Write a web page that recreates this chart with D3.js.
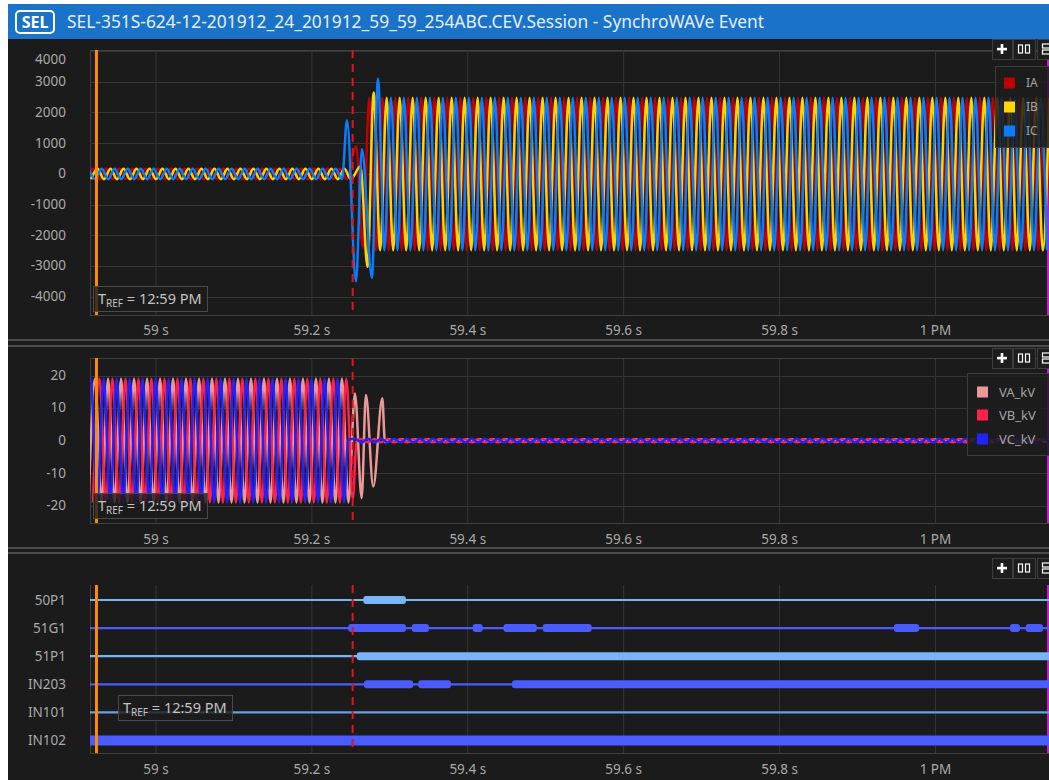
<!DOCTYPE html>
<meta charset="utf-8">
<html>
<head>
  <script src="https://d3js.org/d3.v7.min.js" charset="utf-8"></script>
</head>
<style>
* { font-family: "Noto Sans", "Open Sans", sans-serif; }
body { margin: 0; background-color: #ffffff; overflow: hidden; }
</style>
<body>
<div id=container></div>
<script type="text/javascript">

// ---- data ----
var title = "SEL-351S-624-12-201912_24_201912_59_59_254ABC.CEV.Session - SynchroWAVe Event"
var xTicks = [59, 59.2, 59.4, 59.6, 59.8, 60]
var xTickLabels = ["59 s", "59.2 s", "59.4 s", "59.6 s", "59.8 s", "1 PM"]
var currentTicks = [4000, 3000, 2000, 1000, 0, -1000, -2000, -3000, -4000]
var voltageTicks = [20, 10, 0, -10, -20]
var tRef = 58.9243      // orange TREF cursor
var tTrigger = 59.2530  // red dashed trigger line

var HALF = 1 / 120  // peaks come every half cycle of 60 Hz

// [time of first peak, number of half cycles, first peak value]; sign flips every half cycle
var iaRuns = [[58.9117, 41, -170], [59.2743, 106, 2480]]
var ibRuns = [[58.9173, 41, -170], [59.2883, 104, -2480]]
var icRuns = [[58.9144, 40, 170], [59.2937, 103, -2480]]
// single peaks around fault inception [time, value]
var iaEdge = [[59.2576, 900], [59.2660, -2400]]
var ibEdge = [[59.2630, 250], [59.2720, -3030], [59.2799, 2650]]
var icEdge = [[59.2457, 1750], [59.2572, -3500], [59.2649, 800], [59.2777, -3380], [59.2854, 3100]]

var vaRuns = [[58.9142, 41, -19.0], [59.2990, 104, 0.4]]
var vbRuns = [[58.9198, 40, -19.0], [59.2640, 106, 0.5]]
var vcRuns = [[58.9086, 41, -19.0], [59.2560, 108, 0.6]]
var vaEdge = [[59.2559, 14.5], [59.2645, -17.6], [59.2700, 14.0], [59.2794, -14.1], [59.2910, 13.0], [59.2944, -0.5]]
var vbEdge = [[59.2531, -18.0], [59.2580, 0]]
var vcEdge = [[59.2470, 0.3]]

var digitalNames = ["50P1", "51G1", "51P1", "IN203", "IN101", "IN102"]
var dig50P1 = [[59.2666, 59.3214]]
var dig51G1 = [[59.2473, 59.3214], [59.3287, 59.3509], [59.4069, 59.4198], [59.4464, 59.4892],
               [59.4967, 59.5596], [59.9472, 59.9798], [60.0962, 60.1091], [60.1164, 60.1386]]
var dig51P1 = [[59.2581, 60.2]]
var digIN203 = [[59.2675, 59.3307], [59.3371, 59.3791], [59.4574, 60.2]]
var digIN101 = []
var digIN102 = [[58.90, 60.2]]

// ---- layout ----
var width = 1049
var height = 780
var plotLeft = 90
var panels = [
  {top: 50, bottom: 315, axisY: 330, buttons: 39},
  {top: 358, bottom: 523, axisY: 539, buttons: 348},
  {top: 585, bottom: 753, axisY: 769, buttons: 558}
]
var grid = "#353535"
var tickColor = "#a9a9a9"
var tickFont = "13.5px"

var x = d3.scaleLinear().domain([58.916, 60.1463]).range([plotLeft, width])
var yI = d3.scaleLinear().domain([-4590, 4000]).range([panels[0].bottom, panels[0].top + 1])
var yV = d3.scaleLinear().domain([-25.3, 25.4]).range([panels[1].bottom, panels[1].top])
var yD = d3.scalePoint().domain(digitalNames).range([600, 740.5])

function peaks(runs, edge) {
  var pts = []
  runs.forEach(function(r) {
    for (var k = 0; k < r[1]; k++) pts.push([r[0] + k * HALF, k % 2 ? -r[2] : r[2]])
  })
  return pts.concat(edge).sort((a, b) => a[0] - b[0])
}

const svg = d3.select("#container")
              .append("svg")
              .attr("width", width)
              .attr("height", height)

// window frame
svg.append("rect").attr("width", width).attr("height", height).attr("fill", "#ffffff")
svg.append("rect").attr("x", 8).attr("y", 4).attr("width", width - 8).attr("height", height - 4).attr("fill", "#1b1b1b")
svg.append("rect").attr("x", 8).attr("y", 4).attr("width", width - 8).attr("height", 35).attr("fill", "#1a72c9")

svg.append("rect").attr("x", 16).attr("y", 11).attr("width", 38).attr("height", 22).attr("rx", 4)
   .attr("fill", "none").attr("stroke", "#ffffff").attr("stroke-width", 2)
svg.append("text").attr("x", 35).attr("y", 28).attr("text-anchor", "middle")
   .attr("fill", "#ffffff").attr("font-size", "16px").attr("font-weight", "bold").text("SEL")
svg.append("text").attr("x", 67).attr("y", 28).attr("fill", "#e4eefb").attr("font-size", "17.4px").text(title)

// splitters between panels
;[340, 346, 548, 553].forEach(function(yy) {
  svg.append("line").attr("x1", 8).attr("x2", width).attr("y1", yy).attr("y2", yy)
     .attr("stroke", "#5c5c5c").attr("stroke-width", 1.6)
})

panels.forEach(function(p, i) {
  var clipId = "clip" + i
  svg.append("clipPath").attr("id", clipId).append("rect")
     .attr("x", plotLeft).attr("y", p.top).attr("width", width - plotLeft).attr("height", p.bottom - p.top)
  p.g = svg.append("g")
  p.clip = svg.append("g").attr("clip-path", "url(#" + clipId + ")")

  // vertical grid
  p.g.selectAll("vgrid").data(xTicks).enter().append("line")
     .attr("x1", d => x(d) + 0.5).attr("x2", d => x(d) + 0.5)
     .attr("y1", p.top).attr("y2", p.bottom).attr("stroke", grid)

  // frame
  p.g.append("line").attr("x1", plotLeft + 0.5).attr("x2", plotLeft + 0.5).attr("y1", p.top).attr("y2", p.bottom).attr("stroke", "#404040")
  p.g.append("line").attr("x1", plotLeft).attr("x2", width).attr("y1", p.bottom + 0.5).attr("y2", p.bottom + 0.5).attr("stroke", "#404040")
  if (i < 2) p.g.append("line").attr("x1", plotLeft).attr("x2", width).attr("y1", p.top + 0.5).attr("y2", p.top + 0.5).attr("stroke", "#404040")

  // time axis
  var ax = svg.append("g").attr("transform", "translate(0," + (p.axisY - 5) + ")")
              .call(d3.axisBottom(x).tickValues(xTicks).tickFormat((d, j) => xTickLabels[j]).tickSize(0).tickPadding(0))
  ax.select(".domain").remove()
  ax.selectAll("text").attr("fill", tickColor).attr("font-size", tickFont).style("font-family", "Noto Sans")
})

// value axes + horizontal grid
function valueAxis(p, scale, ticks) {
  p.g.selectAll("hgrid").data(ticks).enter().append("line")
     .attr("x1", plotLeft).attr("x2", width)
     .attr("y1", d => Math.round(scale(d)) + 0.5).attr("y2", d => Math.round(scale(d)) + 0.5)
     .attr("stroke", grid)
  var ay = svg.append("g").attr("transform", "translate(66,0)")
              .call(d3.axisLeft(scale).tickValues(ticks).tickFormat(d => String(d)).tickSize(0).tickPadding(0))
  ay.select(".domain").remove()
  ay.selectAll(".tick").attr("transform", d => "translate(0," + Math.max(scale(d), p.top + 10) + ")")
  ay.selectAll("text").attr("fill", tickColor).attr("font-size", tickFont).style("font-family", "Noto Sans")
}
valueAxis(panels[0], yI, currentTicks)
valueAxis(panels[1], yV, voltageTicks)

var dAxis = svg.append("g").attr("transform", "translate(66,0)")
               .call(d3.axisLeft(yD).tickSize(0).tickPadding(0))
dAxis.select(".domain").remove()
dAxis.selectAll("text").attr("fill", tickColor).attr("font-size", tickFont).style("font-family", "Noto Sans")

// analog traces
var currents = [
  {name: "IA", color: "#c00000", pts: peaks(iaRuns, iaEdge)},
  {name: "IB", color: "#ffd500", pts: peaks(ibRuns, ibEdge)},
  {name: "IC", color: "#0a7cff", pts: peaks(icRuns, icEdge)}
]
var voltages = [
  {name: "VA_kV", color: "#eb9898", pts: peaks(vaRuns, vaEdge)},
  {name: "VB_kV", color: "#ff1f4b", pts: peaks(vbRuns, vbEdge)},
  {name: "VC_kV", color: "#2222ff", pts: peaks(vcRuns, vcEdge)}
]

function drawTraces(p, scale, series) {
  var line = d3.line().x(d => x(d[0])).y(d => scale(d[1])).curve(d3.curveMonotoneX)
  p.clip.selectAll("trace").data(series).enter().append("path")
        .attr("d", d => line(d.pts))
        .attr("fill", "none")
        .attr("stroke", d => d.color)
        .attr("stroke-width", 2.5)
}
drawTraces(panels[0], yI, currents)
drawTraces(panels[1], yV, voltages)

// digital traces
var digital = [
  {name: "50P1", color: "#78b5f7", on: dig50P1},
  {name: "51G1", color: "#4b5cff", on: dig51G1},
  {name: "51P1", color: "#78b5f7", on: dig51P1},
  {name: "IN203", color: "#4b5cff", on: digIN203},
  {name: "IN101", color: "#6a9fdf", on: digIN101},
  {name: "IN102", color: "#4b5cff", on: digIN102}
]
var p3 = panels[2]
p3.clip.selectAll("dline").data(digital).enter().append("line")
   .attr("x1", plotLeft).attr("x2", width)
   .attr("y1", d => yD(d.name)).attr("y2", d => yD(d.name))
   .attr("stroke", d => d.color).attr("stroke-width", 2.2)
digital.forEach(function(ch) {
  var h = ch.name == "IN102" ? 10 : 8
  p3.clip.selectAll("dbar").data(ch.on).enter().append("rect")
     .attr("x", d => x(d[0])).attr("width", d => x(d[1]) - x(d[0]))
     .attr("y", yD(ch.name) - h / 2).attr("height", h).attr("rx", 3)
     .attr("fill", ch.color)
})

// cursors
panels.forEach(function(p) {
  p.clip.append("line").attr("x1", x(tRef)).attr("x2", x(tRef)).attr("y1", p.top).attr("y2", p.bottom)
        .attr("stroke", "#ff8c00").attr("stroke-width", 3)
  p.clip.append("line").attr("x1", x(tTrigger)).attr("x2", x(tTrigger)).attr("y1", p.top).attr("y2", p.bottom)
        .attr("stroke", "#e0141a").attr("stroke-width", 2).attr("stroke-dasharray", "8,6")
  p.g.append("line").attr("x1", width - 1).attr("x2", width - 1).attr("y1", p.top).attr("y2", p.bottom)
     .attr("stroke", "#c21fd0").attr("stroke-width", 2)
})

// TREF labels
function tref(g, bx, by) {
  g.append("rect").attr("x", bx + 0.5).attr("y", by + 0.5).attr("width", 114).attr("height", 25)
   .attr("fill", "#1b1b1b").attr("fill-opacity", 0.8).attr("stroke", "#4a4a4a")
  var t = g.append("text").attr("x", bx + 5).attr("y", by + 18).attr("fill", "#c4c4c4").attr("font-size", "14.5px")
  t.append("tspan").text("T")
  t.append("tspan").attr("font-size", "10px").attr("dy", 3).text("REF")
  t.append("tspan").attr("dy", -3).text(" = 12:59 PM")
}
tref(svg, 93, 286)
tref(svg, 93, 493)
tref(svg, 118, 695)

// legends
function legend(items, bx, by, sx, tx, ys, fs) {
  var lg = svg.append("g")
  lg.append("rect").attr("x", bx + 0.5).attr("y", by + 0.5).attr("width", 100).attr("height", ys[2] - by + 16)
    .attr("fill", "#1c1c1c").attr("fill-opacity", 0.85).attr("stroke", "#3c3c3c")
  lg.selectAll("sw").data(items).enter().append("rect")
    .attr("x", sx).attr("y", (d, i) => ys[i] - 5.5).attr("width", 11).attr("height", 11)
    .attr("fill", d => d.color)
  lg.selectAll("lt").data(items).enter().append("text")
    .attr("x", tx).attr("y", (d, i) => ys[i]).attr("dy", "0.35em")
    .attr("fill", "#a4a4a4").attr("font-size", fs).text(d => d.name)
}
legend(currents, 995, 66, 1004, 1026, [83, 107, 131], "12px")
legend(voltages, 967, 373, 977, 999, [392, 415, 439], "13px")

// panel buttons
panels.forEach(function(p) {
  var b = svg.append("g")
  ;[[992, 20], [1013, 22], [1037, 22]].forEach(function(d) {
    b.append("rect").attr("x", d[0] + 0.5).attr("y", p.buttons + 0.5).attr("width", d[1]).attr("height", 20)
     .attr("fill", "#1d1d1d").attr("stroke", "#3e3e3e")
  })
  var cy = p.buttons + 10
  b.append("rect").attr("x", 997).attr("y", cy - 1.2).attr("width", 10).attr("height", 2.6).attr("fill", "#ffffff")
  b.append("rect").attr("x", 1000.7).attr("y", cy - 5).attr("width", 2.6).attr("height", 10).attr("fill", "#ffffff")
  b.append("rect").attr("x", 1018.5).attr("y", cy - 4).attr("width", 4).attr("height", 8).attr("fill", "none").attr("stroke", "#ffffff").attr("stroke-width", 1.2)
  b.append("rect").attr("x", 1025.5).attr("y", cy - 4).attr("width", 4).attr("height", 8).attr("fill", "none").attr("stroke", "#ffffff").attr("stroke-width", 1.2)
  b.append("rect").attr("x", 1042.5).attr("y", cy - 5).attr("width", 9).attr("height", 4).attr("fill", "none").attr("stroke", "#ffffff").attr("stroke-width", 1.2)
  b.append("rect").attr("x", 1042.5).attr("y", cy + 1).attr("width", 9).attr("height", 4).attr("fill", "none").attr("stroke", "#ffffff").attr("stroke-width", 1.2)
})

</script>
</body>
</html>
